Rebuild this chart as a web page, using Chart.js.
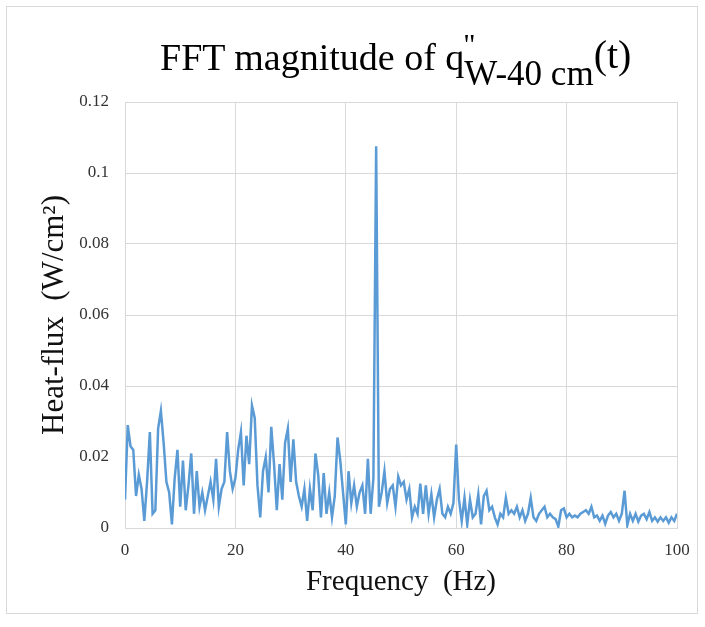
<!DOCTYPE html>
<html>
<head>
<meta charset="utf-8">
<script src="https://cdn.jsdelivr.net/npm/chart.js@4.4.1/dist/chart.umd.min.js"></script>
<style>
    html, body { margin: 0; padding: 0; background: #fff; }
    #wrap { position: relative; width: 705px; height: 627px; }
    #fftChart { position: absolute; left: 0; top: 0; }
    #frame {
        position: absolute; left: 6px; top: 6px; width: 690px; height: 606px;
        border: 1px solid #d9d9d9; pointer-events: none;
    }
    #title {
        position: absolute; left: 160px; top: 38px;
        font-family: 'Liberation Serif', 'Times New Roman', serif;
        font-size: 38px; line-height: 38px; color: #000; white-space: nowrap;
    }
    #title .q { position: relative; display: inline-block; }
    #title .dp { position: absolute; left: 18px; top: -13px; font-size: 30px; }
    #title .sub { position: relative; top: 15px; font-size: 35px; }
    #title .sup { position: relative; top: -2px; font-size: 40px; }
</style>
</head>
<body>
<div id="wrap">
    <canvas id="fftChart" width="705" height="627"></canvas>
    <div id="title">FFT magnitude of <span class="q">q<span class="dp">"</span></span><span class="sub">W-40 cm</span><span class="sup">(t)</span></div>
    <div id="frame"></div>
</div>
<script>
// fft chart

// frequency grid (Hz), one sample every half hertz
const FREQ_STEP = 0.5;

// FFT magnitude (W/cm2), 10 samples per row = 5 Hz
const magnitude = [
    0.008, 0.029, 0.023, 0.022, 0.009, 0.015, 0.011, 0.002, 0.013, 0.027,   // 0
    0.004, 0.005, 0.028, 0.033, 0.024, 0.013, 0.010, 0.001, 0.014, 0.022,   // 5
    0.006, 0.019, 0.005, 0.012, 0.021, 0.004, 0.016, 0.006, 0.010, 0.005,   // 10
    0.009, 0.013, 0.008, 0.0195, 0.006, 0.011, 0.013, 0.027, 0.016, 0.011,  // 15
    0.014, 0.022, 0.027, 0.012, 0.026, 0.018, 0.0345, 0.031, 0.012, 0.003,  // 20
    0.016, 0.020, 0.010, 0.0285, 0.018, 0.005, 0.018, 0.008, 0.024, 0.028,  // 25
    0.013, 0.025, 0.013, 0.009, 0.006, 0.011, 0.002, 0.011, 0.005, 0.021,   // 30
    0.015, 0.003, 0.0155, 0.004, 0.010, 0.003, 0.009, 0.0255, 0.019, 0.010, // 35
    0.001, 0.016, 0.007, 0.012, 0.006, 0.010, 0.012, 0.004, 0.0195, 0.004,  // 40
    0.014, 0.1075, 0.006, 0.010, 0.016, 0.007, 0.011, 0.012, 0.006, 0.0145, // 45
    0.012, 0.013, 0.008, 0.011, 0.003, 0.006, 0.004, 0.0125, 0.004, 0.012,  // 50
    0.004, 0.0095, 0.003, 0.008, 0.011, 0.004, 0.003, 0.006, 0.004, 0.007,  // 55
    0.0235, 0.008, 0.002, 0.0085, 0.001, 0.008, 0.003, 0.004, 0.0095, 0.001, // 60
    0.009, 0.0105, 0.005, 0.006, 0.003, 0.001, 0.004, 0.003, 0.0085, 0.004, // 65
    0.005, 0.004, 0.006, 0.003, 0.005, 0.002, 0.004, 0.0085, 0.003, 0.002,  // 70
    0.004, 0.005, 0.006, 0.003, 0.004, 0.003, 0.0025, 0.0004, 0.005, 0.0055, // 75
    0.003, 0.004, 0.003, 0.0035, 0.003, 0.004, 0.0045, 0.005, 0.004, 0.006, // 80
    0.003, 0.0035, 0.002, 0.0035, 0.0012, 0.0035, 0.0045, 0.003, 0.004, 0.002, // 85
    0.004, 0.0105, 0.0008, 0.004, 0.002, 0.004, 0.0018, 0.0035, 0.004, 0.0025, // 90
    0.0045, 0.002, 0.003, 0.0018, 0.003, 0.002, 0.003, 0.0015, 0.003, 0.002, // 95
    0.004                                                                    // 100
];

// axis ticks
const xTicks = [0, 20, 40, 60, 80, 100];
const yTicks = [0, 0.02, 0.04, 0.06, 0.08, 0.1, 0.12];
const yTickLabels = ['0', '0.02', '0.04', '0.06', '0.08', '0.1', '0.12'];

const xTitle = 'Frequency  (Hz)';
const yTitle = 'Heat-flux  (W/cm\u00B2)';

const SERIF = "'Liberation Serif', 'Times New Roman', serif";
const GRID = '#d9d9d9';

const points = magnitude.map((v, i) => ({ x: i * FREQ_STEP, y: v }));

const ctx = document.getElementById('fftChart').getContext('2d');

new Chart(ctx, {
    type: 'line',
    data: {
        datasets: [{
            data: points,
            borderColor: '#5b9bd5',
            borderWidth: 2.5,
            pointRadius: 0,
            tension: 0,
            fill: false,
        }],
    },
    options: {
        responsive: false,
        animation: false,
        events: [],
        layout: {
            padding: { left: 0, right: 28, top: 102, bottom: 20 },
        },
        plugins: {
            legend: { display: false },
            tooltip: { enabled: false },
        },
        scales: {
            x: {
                type: 'linear',
                min: 0,
                max: 100,
                afterBuildTicks: axis => { axis.ticks = xTicks.map(v => ({ value: v })); },
                afterFit: axis => { axis.height = 79; },
                grid: { color: GRID, drawTicks: false },
                border: { color: GRID },
                ticks: {
                    padding: 12,
                    color: '#333',
                    font: { family: SERIF, size: 17 },
                },
                title: {
                    display: true,
                    text: xTitle,
                    color: '#111',
                    font: { family: SERIF, size: 29 },
                    padding: { top: 0, bottom: 7 },
                },
            },
            y: {
                type: 'linear',
                min: 0,
                max: 0.12,
                afterBuildTicks: axis => { axis.ticks = yTicks.map(v => ({ value: v })); },
                afterFit: axis => { axis.width = 125; },
                grid: { color: GRID, drawTicks: false },
                border: { color: GRID },
                ticks: {
                    padding: 16,
                    color: '#333',
                    font: { family: SERIF, size: 17 },
                    callback: value => yTickLabels[yTicks.indexOf(value)],
                },
                title: {
                    display: true,
                    text: yTitle,
                    color: '#111',
                    font: { family: SERIF, size: 31 },
                    padding: { top: 36, bottom: 0 },
                },
            },
        },
    },
});
</script>
</body>
</html>
